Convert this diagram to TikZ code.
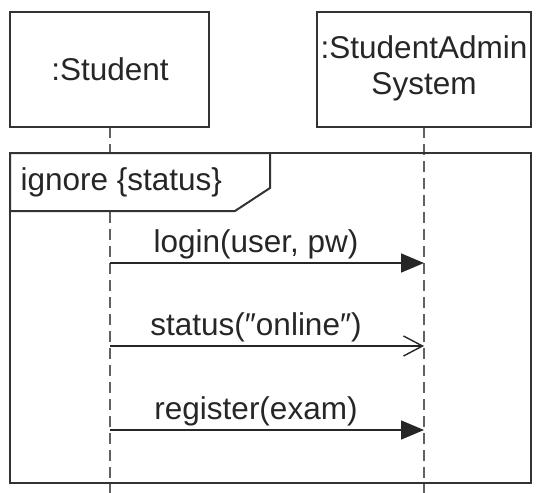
\documentclass[tikz,border=0pt]{standalone}
\usepackage{fontspec}
\setmainfont{Liberation Sans}
\usetikzlibrary{arrows.meta}
\begin{document}
\begin{tikzpicture}[x=1pt,y=-1pt,
  every node/.style={font=\fontsize{31.5}{36}\selectfont, text=black!85},
  objbox/.style={draw=black!80, line width=2pt, fill=white},
  lifeline/.style={draw=black!62, line width=2.3pt, dash pattern=on 11pt off 6pt},
  frameline/.style={draw=black!80, line width=2pt},
  syncmsg/.style={draw=black!85, line width=1.7pt, -{Triangle[length=23pt,width=19pt]}},
  asyncmsg/.style={draw=black!85, line width=1.7pt, -{Straight Barb[length=19pt,width=20pt,line width=1.4pt]}},
  msglabel/.style={anchor=base}]
\useasboundingbox (0,0) rectangle (542,493);
% lifelines
\coordinate (sTop) at (110,127);
\coordinate (sBot) at (110,493);
\coordinate (aTop) at (424,127);
\coordinate (aBot) at (424,493);
\draw[lifeline] (sTop) -- (sBot);
\draw[lifeline] (aTop) -- (aBot);
% objects
\draw[objbox] (10,12) rectangle (209,127);
\node (student) at (110,69) {:Student};
\draw[objbox] (317,12) rectangle (531,127);
\node[align=center] (admin) at (424,68) {:StudentAdmin\\System};
% frame
\draw[frameline] (10,153) rectangle (531,483);
\draw[frameline, fill=white] (10,153) -- (270,153) -- (270,188) -- (235,211) -- (10,211) -- cycle;
\node[anchor=west] (flabel) at (17,182) {ignore \{status\}};
% messages
\coordinate (s1) at (110,263); \coordinate (a1) at (424,263);
\coordinate (s2) at (110,346); \coordinate (a2) at (424,346);
\coordinate (s3) at (110,430); \coordinate (a3) at (424,430);
\draw[syncmsg] (s1) -- (a1);
\draw[asyncmsg] (s2) -- (a2);
\draw[syncmsg] (s3) -- (a3);
\node[msglabel] (m1) at (256,252) {login(user, pw)};
\node[msglabel] (m2) at (256,335) {status(″online″)};
\node[msglabel] (m3) at (256,419) {register(exam)};
\end{tikzpicture}
\end{document}
